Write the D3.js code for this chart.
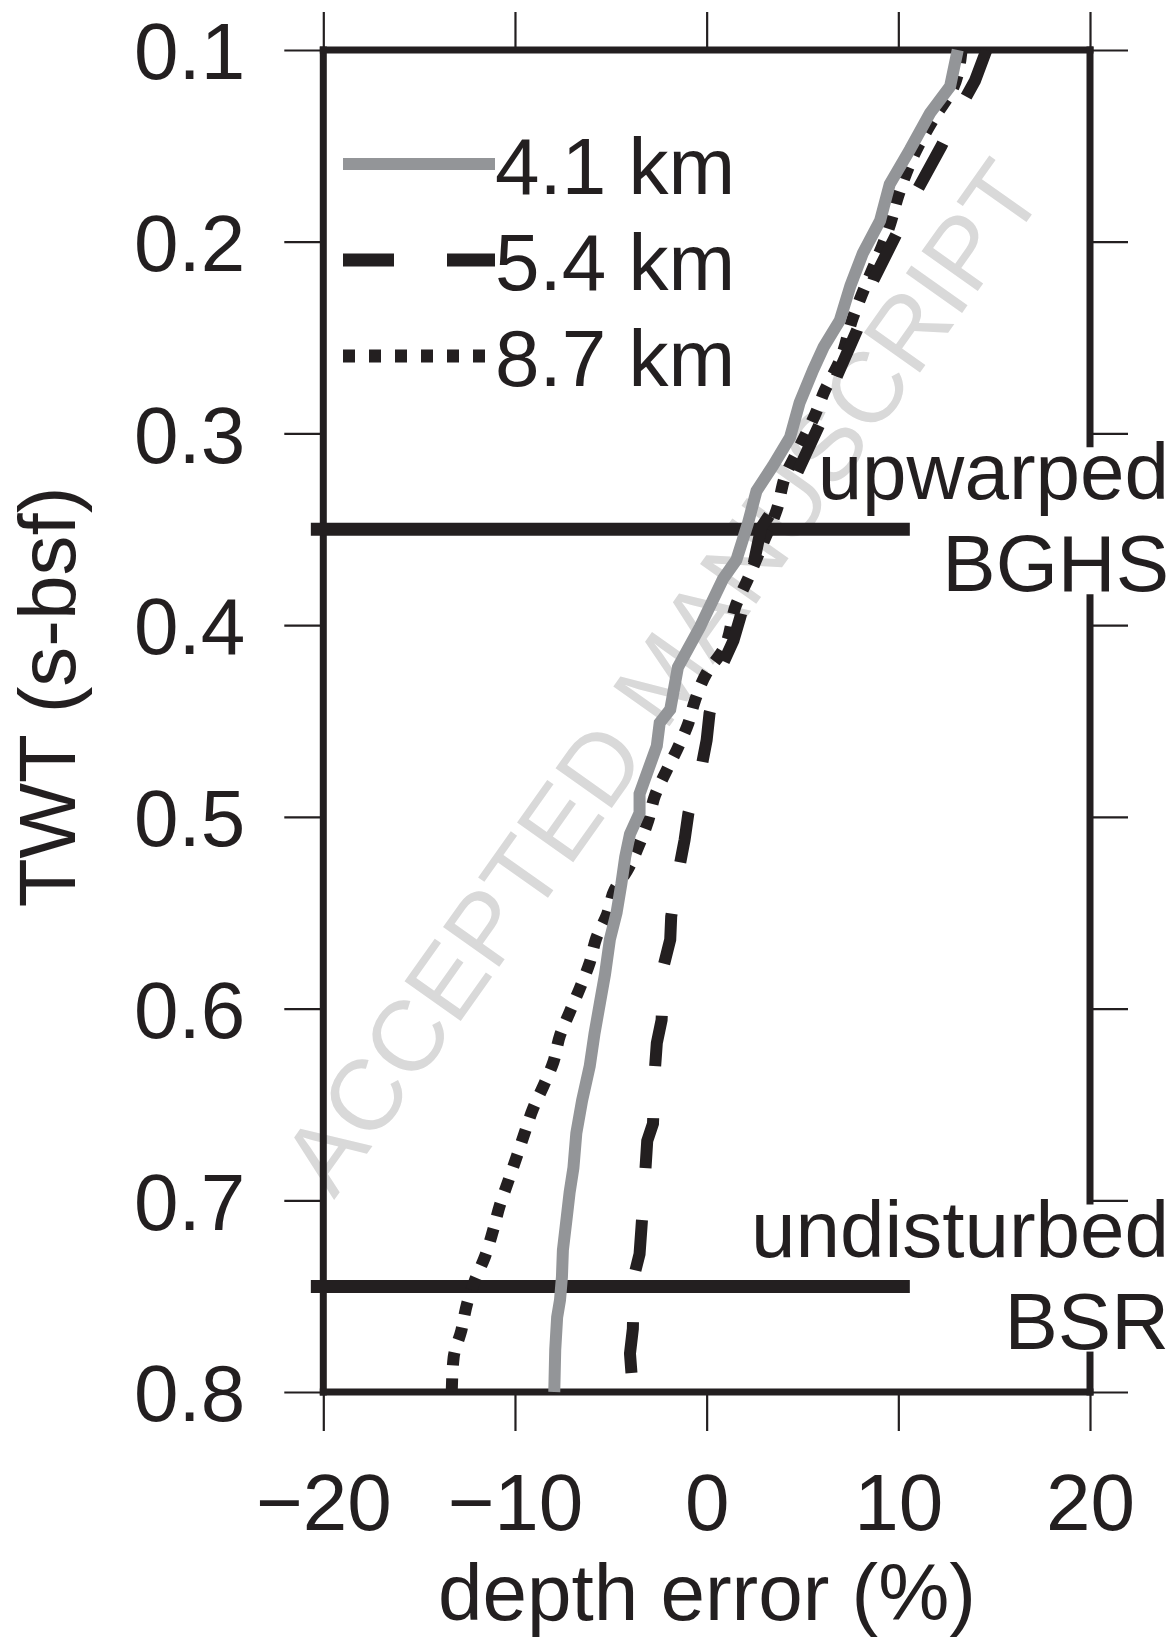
<!DOCTYPE html>
<html>
<head>
<meta charset="utf-8">
<script src="https://cdn.jsdelivr.net/npm/d3@7"></script>
<style>
  body { margin: 0; background: #fff; }
  svg text { font-family: 'Liberation Sans', Arial, Helvetica, sans-serif; fill: #231f20; }
</style>
</head>
<body>
<svg id="chart" width="1173" height="1638"></svg>
<script>
const ink = '#231f20'
const grey = '#939598'

const xTicks = [-20, -10, 0, 10, 20]
const yTicks = [0.1, 0.2, 0.3, 0.4, 0.5, 0.6, 0.7, 0.8]
const seriesNames = ['4.1 km', '5.4 km', '8.7 km']

// offset 4.1 km
const twt41 = [0.100, 0.119, 0.133, 0.152, 0.170, 0.189, 0.206, 0.223, 0.241, 0.255, 0.267, 0.284, 0.302, 0.317, 0.330,
  0.347, 0.366, 0.376, 0.401, 0.422, 0.444, 0.451, 0.463, 0.488, 0.498, 0.509, 0.521, 0.535, 0.550, 0.564,
  0.582, 0.596, 0.613, 0.630, 0.648, 0.665, 0.683, 0.696, 0.709, 0.726, 0.740, 0.752, 0.761, 0.778, 0.800]
const err41 = [13.1, 12.7, 11.65, 10.6, 9.55, 9.05, 8.15, 7.5, 6.95, 6.1, 5.55, 4.85, 4.35, 3.45, 2.6,
  2.15, 1.55, 0.85, -0.35, -1.5, -1.9, -2.45, -2.6, -3.5, -3.5, -4.0, -4.25, -4.45, -4.7, -5.05,
  -5.3, -5.55, -5.85, -6.1, -6.5, -6.8, -6.95, -7.15, -7.3, -7.5, -7.55, -7.65, -7.8, -7.9, -7.95]

// offset 5.4 km
const twt54 = [0.100, 0.116, 0.126, 0.150, 0.172, 0.196, 0.220, 0.246, 0.270, 0.295, 0.321, 0.349, 0.368, 0.396,
  0.408, 0.420, 0.446, 0.460, 0.473, 0.498, 0.512, 0.525, 0.552, 0.564, 0.578, 0.606, 0.618, 0.632, 0.660,
  0.669, 0.685, 0.714, 0.728, 0.740, 0.767, 0.780, 0.793, 0.800]
const err54 = [14.6, 14.0, 13.45, 12.25, 11.05, 9.9, 8.7, 7.85, 6.8, 5.9, 4.7, 2.85, 2.45, 1.75,
  1.4, 0.85, 0.15, 0.0, -0.25, -0.95, -1.15, -1.4, -1.85, -1.9, -2.25, -2.35, -2.6, -2.7, -2.8,
  -3.1, -3.2, -3.4, -3.5, -3.8, -3.85, -4.0, -3.9, -3.9]

// offset 8.7 km
const twt87 = [0.100, 0.120, 0.135, 0.153, 0.176, 0.190, 0.230, 0.239, 0.262, 0.279, 0.288, 0.310, 0.321, 0.340,
  0.357, 0.376, 0.389, 0.413, 0.425, 0.439, 0.451, 0.465, 0.476, 0.489, 0.502, 0.514, 0.528, 0.538, 0.551,
  0.563, 0.576, 0.589, 0.602, 0.614, 0.628, 0.640, 0.652, 0.665, 0.677, 0.690, 0.703, 0.716, 0.729, 0.742,
  0.754, 0.768, 0.782, 0.800]
const err87 = [13.3, 12.85, 11.9, 10.9, 10.0, 9.6, 8.0, 7.65, 6.95, 6.1, 5.75, 4.7, 4.15, 3.65,
  2.95, 2.15, 1.55, 0.85, 0.0, -0.6, -0.95, -1.55, -2.1, -2.7, -3.05, -3.5, -4.15, -4.8, -5.2,
  -5.75, -6.1, -6.6, -7.15, -7.65, -8.0, -8.5, -9.05, -9.5, -9.9, -10.35, -10.8, -11.15, -11.55, -12.1,
  -12.5, -12.8, -13.2, -13.3]

// reflector horizons
const horizonTwt = [0.35, 0.745]
const horizonSpan = [-20.65, 10.6]
const horizonLabels = [['upwarped', 'BGHS'], ['undisturbed', 'BSR']]

const svg = d3.select('#chart')

const x = d3.scaleLinear().domain([-20, 20]).range([323.3, 1090])
const y = d3.scaleLinear().domain([0.1, 0.8]).range([50, 1392])

const x0 = x(-20), x1 = x(20), y0 = y(0.1), y1 = y(0.8)

// watermark sits under everything
svg.append('text')
  .attr('transform', 'translate(661,676) rotate(-54.7)')
  .attr('text-anchor', 'middle')
  .attr('dy', '0.36em')
  .attr('font-size', 100)
  .style('fill', '#d9d9d9')
  .text('ACCEPTED MANUSCRIPT')

// axes (ticks only)
const styleAxis = g => {
  g.select('.domain').remove()
  g.selectAll('.tick line').attr('stroke', ink).attr('stroke-width', 2.2)
}

svg.append('g')
  .attr('transform', `translate(${x0},0)`)
  .call(d3.axisLeft(y).tickValues(yTicks).tickSize(39).tickPadding(39).tickFormat(d3.format('.1f')))
  .call(styleAxis)
  .call(g => g.selectAll('text').attr('dy', '0.36em').attr('font-size', 80).style('font-family', null))

svg.append('g')
  .attr('transform', `translate(${x1},0)`)
  .call(d3.axisRight(y).tickValues(yTicks).tickSize(38).tickFormat(''))
  .call(styleAxis)

svg.append('g')
  .attr('transform', `translate(0,${y0})`)
  .call(d3.axisTop(x).tickValues(xTicks).tickSize(38).tickFormat(''))
  .call(styleAxis)

svg.append('g')
  .attr('transform', `translate(0,${y1})`)
  .call(d3.axisBottom(x).tickValues(xTicks).tickSize(39).tickFormat(d3.format('d')))
  .call(styleAxis)
  .call(g => g.selectAll('text').attr('y', 138).attr('dy', null).attr('font-size', 80))

// frame
const frame = svg.append('g').attr('stroke', ink).attr('stroke-width', 7)
frame.append('line').attr('x1', x0).attr('x2', x0).attr('y1', y0 - 3.5).attr('y2', y1 + 3.5)
frame.append('line').attr('x1', x0 - 3.5).attr('x2', x1 + 3.5).attr('y1', y0).attr('y2', y0)
frame.append('line').attr('x1', x0 - 3.5).attr('x2', x1 + 3.5).attr('y1', y1).attr('y2', y1)

// right side is broken where the horizon labels sit
const gaps = horizonTwt.map(t => [y(t) - 82, y(t) + 65])
let start = y0 - 3.5
const rightSegs = []
gaps.forEach(g => {
  rightSegs.push([start, g[0]])
  start = g[1]
})
rightSegs.push([start, y1 + 3.5])
frame.selectAll('.right')
  .data(rightSegs)
  .join('line')
  .attr('x1', x1).attr('x2', x1)
  .attr('y1', d => d[0]).attr('y2', d => d[1])

// horizon bars
svg.append('g')
  .selectAll('line')
  .data(horizonTwt)
  .join('line')
  .attr('x1', x(horizonSpan[0]))
  .attr('x2', x(horizonSpan[1]))
  .attr('y1', d => y(d))
  .attr('y2', d => y(d))
  .attr('stroke', ink)
  .attr('stroke-width', 13)

// curves
const toPts = (twt, err) => twt.map((t, i) => ({ twt: t, err: err[i] }))
const series = [
  { name: seriesNames[0], pts: toPts(twt41, err41), color: grey, dash: null, curve: d3.curveLinear },
  { name: seriesNames[1], pts: toPts(twt54, err54), color: ink, dash: '51,52', curve: d3.curveLinear },
  { name: seriesNames[2], pts: toPts(twt87, err87), color: ink, dash: '13,13', curve: d3.curveMonotoneY }
]

const drawOrder = [series[2], series[1], series[0]]
drawOrder.forEach(s => {
  const line = d3.line()
    .x(d => x(d.err))
    .y(d => y(d.twt))
    .curve(s.curve)
  svg.append('path')
    .attr('d', line(s.pts))
    .attr('fill', 'none')
    .attr('stroke', s.color)
    .attr('stroke-width', 12)
    .attr('stroke-dasharray', s.dash)
})

// legend
const legendDash = [null, '51,53', '12,14']
const legend = svg.append('g')
series.forEach((s, i) => {
  const ly = 164 + i * 96
  legend.append('line')
    .attr('x1', 343).attr('x2', 495)
    .attr('y1', ly).attr('y2', ly)
    .attr('stroke', s.color)
    .attr('stroke-width', i === 0 ? 12 : 13)
    .attr('stroke-dasharray', legendDash[i])
  legend.append('text')
    .attr('x', 495)
    .attr('y', ly + 30)
    .attr('font-size', 80)
    .text(s.name)
})

// horizon labels
horizonTwt.forEach((t, i) => {
  const g = svg.append('g').attr('text-anchor', 'end').attr('font-size', 80)
  g.append('text').attr('x', 1169).attr('y', y(t) - 30).text(horizonLabels[i][0])
  g.append('text').attr('x', 1169).attr('y', y(t) + 62).text(horizonLabels[i][1])
})

// axis titles
svg.append('text')
  .attr('x', 707)
  .attr('y', 1620)
  .attr('text-anchor', 'middle')
  .attr('font-size', 80)
  .text('depth error (%)')

svg.append('text')
  .attr('transform', 'translate(75,697) rotate(-90)')
  .attr('text-anchor', 'middle')
  .attr('font-size', 80)
  .text('TWT (s-bsf)')
</script>
</body>
</html>
